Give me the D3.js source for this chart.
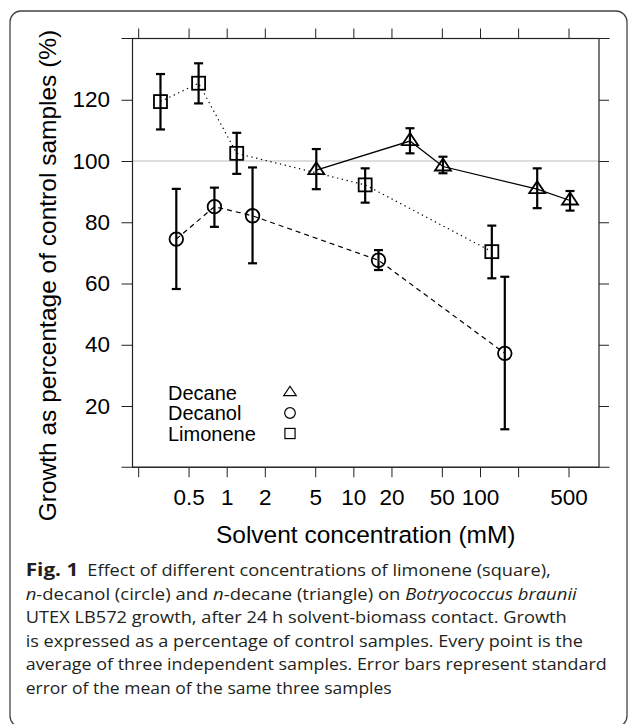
<!DOCTYPE html>
<html>
<head>
<meta charset="utf-8">
<script src="https://cdn.jsdelivr.net/npm/d3@7"></script>
<style>
  body { margin: 0; background: #fff; }
  .axis text { font-family: "Liberation Sans", Arial, sans-serif; font-size: 22.5px; fill: #000; }
  .axis line { stroke: #222; stroke-width: 1; }
  .axisText { font-family: "Liberation Sans", Arial, sans-serif; font-size: 24.5px; fill: #000; text-anchor: middle; }
  .legendText { font-family: "Liberation Sans", Arial, sans-serif; font-size: 20px; fill: #000; }
  .caption { font-family: "Open Sans", sans-serif; font-size: 17px; fill: #231f20; }
</style>
</head>
<body>
<div id="chart"></div>
<script>
// Data (concentration in mM, growth in % of control)
var decaneConc = [5.1, 28, 51, 283, 514];
var decaneGrowth = [97.0, 106.5, 98.2, 90.8, 87.1];
var decaneLow = [90.8, 102.5, 96.0, 84.6, 83.8];
var decaneHigh = [103.9, 110.7, 101.4, 97.6, 90.2];

var decanolConc = [0.4, 0.8, 1.6, 15.8, 157];
var decanolGrowth = [74.5, 85.1, 82.1, 67.6, 37.2];
var decanolLow = [58.2, 78.5, 66.6, 64.4, 12.4];
var decanolHigh = [90.9, 91.3, 97.9, 70.9, 62.2];

var limoneneConc = [0.3, 0.6, 1.2, 12.4, 124];
var limoneneGrowth = [119.4, 125.4, 102.5, 92.2, 70.4];
var limoneneLow = [110.3, 118.8, 95.8, 86.4, 61.7];
var limoneneHigh = [128.4, 131.9, 109.2, 97.6, 78.9];

var xTicks = [0.2, 0.5, 1, 2, 5, 10, 20, 50, 100, 200, 500];
var xTickLabels = ["", "0.5", "1", "2", "5", "10", "20", "50", "100", "", "500"];
var yTicks = [20, 40, 60, 80, 100, 120];
var xLimits = [0.1804, 870.4];
var yLimits = [0, 140];
var referenceLevel = 100;

var legendNames = ["Decane", "Decanol", "Limonene"];

var captionLines = [
  [{t: "Effect of different concentrations of limonene (square),"}],
  [{t: "n", i: true}, {t: "-decanol (circle) and "}, {t: "n", i: true}, {t: "-decane (triangle) on "}, {t: "Botryococcus braunii", i: true}],
  [{t: "UTEX LB572 growth, after 24 h solvent-biomass contact. Growth"}],
  [{t: "is expressed as a percentage of control samples. Every point is the"}],
  [{t: "average of three independent samples. Error bars represent standard"}],
  [{t: "error of the mean of the same three samples"}]
];
var captionWidths = [463.4, 551, 541, 557.3, 581, 366];

var svgWidth = 630;
var svgHeight = 724;

var margin = {
  top: 38.5,
  right: 31,
  bottom: 256.75,
  left: 132.5
};

var width = svgWidth - margin.left - margin.right;
var height = svgHeight - margin.top - margin.bottom;

var svg = d3.select("#chart")
  .append("svg")
  .attr("width", svgWidth)
  .attr("height", svgHeight);

// rounded figure border (bottom edge just below the picture)
svg.append("rect")
  .attr("x", 10)
  .attr("y", 11)
  .attr("width", 617)
  .attr("height", 716)
  .attr("rx", 11)
  .attr("fill", "none")
  .attr("stroke", "#444")
  .attr("stroke-width", 1.3);

var chartGroup = svg.append("g")
  .attr("transform", `translate(${margin.left}, ${margin.top})`);

// Scales
var xScale = d3.scaleLog().domain(xLimits).range([0, width]);
var yScale = d3.scaleLinear().domain(yLimits).range([height, 0]);

// reference line at 100 %
chartGroup.append("line")
  .attr("x1", 0).attr("x2", width)
  .attr("y1", yScale(referenceLevel)).attr("y2", yScale(referenceLevel))
  .attr("stroke", "#bdbdbd")
  .attr("stroke-width", 1.2);

// Axes
var bottomAxis = d3.axisBottom(xScale)
  .tickValues(xTicks)
  .tickFormat(function(d, i) { return xTickLabels[i]; })
  .tickSize(10).tickSizeOuter(0).tickPadding(12);
var topAxis = d3.axisTop(xScale)
  .tickValues(xTicks).tickFormat("")
  .tickSize(10).tickSizeOuter(0);
var leftAxis = d3.axisLeft(yScale)
  .tickValues(yTicks)
  .tickSize(11).tickSizeOuter(0).tickPadding(11.5);
var rightAxis = d3.axisRight(yScale)
  .tickValues(yTicks).tickFormat("")
  .tickSize(10).tickSizeOuter(0);

chartGroup.append("g").attr("class", "axis")
  .attr("transform", `translate(0, ${height})`)
  .call(bottomAxis);
chartGroup.append("g").attr("class", "axis").call(topAxis);
chartGroup.append("g").attr("class", "axis").call(leftAxis);
chartGroup.append("g").attr("class", "axis")
  .attr("transform", `translate(${width}, 0)`)
  .call(rightAxis);
chartGroup.selectAll(".domain").remove();

// frame: sides plus top/bottom lines running past the corners
chartGroup.append("rect")
  .attr("width", width).attr("height", height)
  .attr("fill", "none").attr("stroke", "#222").attr("stroke-width", 1.2);
[0, height].forEach(function(yy) {
  chartGroup.append("line")
    .attr("x1", -11).attr("x2", width + 10.5)
    .attr("y1", yy).attr("y2", yy)
    .attr("stroke", "#222").attr("stroke-width", 1.2);
});

// series
function makeSeries(conc, growth, low, high) {
  return conc.map(function(c, i) {
    return {x: c, y: growth[i], lo: low[i], hi: high[i]};
  });
}
var series = [
  {name: "Decane", shape: "triangle", dash: null, data: makeSeries(decaneConc, decaneGrowth, decaneLow, decaneHigh)},
  {name: "Decanol", shape: "circle", dash: "5,4", data: makeSeries(decanolConc, decanolGrowth, decanolLow, decanolHigh)},
  {name: "Limonene", shape: "square", dash: "1.3,3.6", data: makeSeries(limoneneConc, limoneneGrowth, limoneneLow, limoneneHigh)}
];

var line = d3.line()
  .x(function(d) { return xScale(d.x); })
  .y(function(d) { return yScale(d.y); });

function drawMarker(g, shape, s) {
  if (shape === "triangle") {
    var w = 16 * s, h = 12 * s;
    g.append("path")
      .attr("d", `M0,${-2 * h / 3}L${w / 2},${h / 3}L${-w / 2},${h / 3}Z`);
  } else if (shape === "circle") {
    g.append("circle").attr("r", 6.8 * s);
  } else {
    g.append("rect")
      .attr("x", -6.5 * s).attr("y", -6.5 * s)
      .attr("width", 13 * s).attr("height", 13 * s);
  }
}

series.forEach(function(s) {
  chartGroup.append("path")
    .datum(s.data)
    .attr("d", line)
    .attr("fill", "none")
    .attr("stroke", "#000")
    .attr("stroke-width", s.dash ? 1.2 : 1.3)
    .attr("stroke-dasharray", s.dash);

  var bars = chartGroup.selectAll(null)
    .data(s.data)
    .enter()
    .append("g")
    .attr("stroke", "#000")
    .attr("stroke-width", 2.2);
  bars.append("line")
    .attr("x1", function(d) { return xScale(d.x); })
    .attr("x2", function(d) { return xScale(d.x); })
    .attr("y1", function(d) { return yScale(d.lo); })
    .attr("y2", function(d) { return yScale(d.hi); });
  ["lo", "hi"].forEach(function(k) {
    bars.append("line")
      .attr("x1", function(d) { return xScale(d.x) - 4.5; })
      .attr("x2", function(d) { return xScale(d.x) + 4.5; })
      .attr("y1", function(d) { return yScale(d[k]); })
      .attr("y2", function(d) { return yScale(d[k]); });
  });

  chartGroup.selectAll(null)
    .data(s.data)
    .enter()
    .append("g")
    .attr("transform", function(d) { return `translate(${xScale(d.x)}, ${yScale(d.y)})`; })
    .attr("fill", "none")
    .attr("stroke", "#000")
    .attr("stroke-width", 1.8)
    .each(function() { drawMarker(d3.select(this), s.shape, 1); });
});

// legend
var legend = svg.append("g");
legendNames.forEach(function(name, i) {
  var shape = series.filter(function(s) { return s.name === name; })[0].shape;
  legend.append("text")
    .attr("class", "legendText")
    .attr("x", 168)
    .attr("y", 399.5 + i * 20.5)
    .text(name);
  var g = legend.append("g")
    .attr("transform", `translate(290, ${392.5 + i * 20.5})`)
    .attr("fill", "none").attr("stroke", "#000").attr("stroke-width", 1.2);
  drawMarker(g, shape, 0.78);
});

// axis labels
svg.append("text")
  .attr("class", "axisText")
  .attr("transform", "translate(55.5, 275.5) rotate(-90)")
  .text("Growth as percentage of control samples (%)");

svg.append("text")
  .attr("class", "axisText")
  .attr("x", margin.left + width / 2)
  .attr("y", 543.3)
  .text("Solvent concentration (mM)");

// caption
var capTop = 576, capStep = 23.5;
svg.append("text")
  .attr("class", "caption")
  .attr("x", 25.7).attr("y", capTop)
  .attr("font-weight", "bold")
  .attr("textLength", 52.6).attr("lengthAdjust", "spacingAndGlyphs")
  .text("Fig. 1");
captionLines.forEach(function(parts, i) {
  var t = svg.append("text")
    .attr("class", "caption")
    .attr("x", i === 0 ? 87.3 : 25.7)
    .attr("y", capTop + i * capStep)
    .attr("textLength", captionWidths[i])
    .attr("lengthAdjust", "spacingAndGlyphs");
  parts.forEach(function(p) {
    t.append("tspan").attr("font-style", p.i ? "italic" : null).text(p.t);
  });
});
</script>
</body>
</html>
